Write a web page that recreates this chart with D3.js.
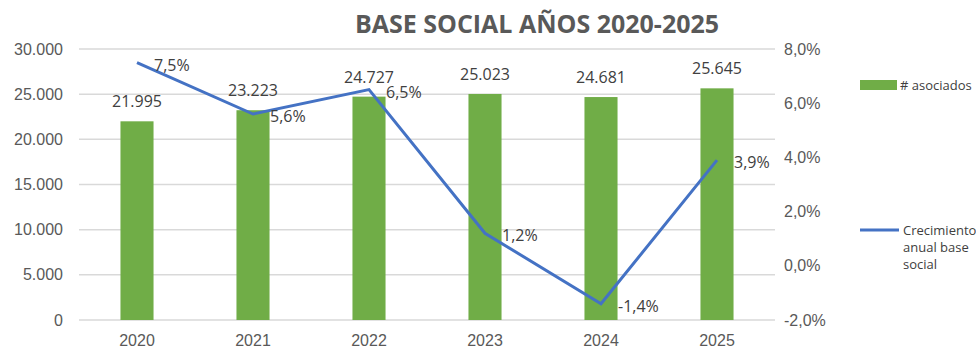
<!DOCTYPE html>
<html>
<head>
<meta charset="utf-8">
<script src="https://cdn.jsdelivr.net/npm/d3@7"></script>
<style>
  body { margin: 0; background: #fff; }
  svg { display: block; font-family: "Open Sans", sans-serif; }
  .grid line { stroke: #d9d9d9; stroke-width: 1.5; }
  .axis text { fill: #595959; font-size: 16px; }
</style>
</head>
<body>
<svg id="chart" width="976" height="349"></svg>
<script>
var years = ['2020', '2021', '2022', '2023', '2024', '2025'];
var members = [21995, 23223, 24727, 25023, 24681, 25645];
var growth = [7.5, 5.6, 6.5, 1.2, -1.4, 3.9];
var leftTicks = [0, 5000, 10000, 15000, 20000, 25000, 30000];
var rightTicks = [-2, 0, 2, 4, 6, 8];

var margin = { top: 49, right: 201, bottom: 29, left: 79 };
var width = 976 - margin.left - margin.right;
var height = 349 - margin.top - margin.bottom;

var svg = d3.select('#chart');
var g = svg.append('g').attr('transform', 'translate(' + margin.left + ',' + margin.top + ')');

var x = d3.scaleBand().domain(years).range([0, width]);
var y = d3.scaleLinear().domain([0, 30000]).range([height, 0]);
var y2 = d3.scaleLinear().domain([-2, 8]).range([height, 0]);

var fmtInt = function (d) { return d3.format(',')(d).replace(/,/g, '.'); };
var fmtPct = function (d) { return d3.format('.1f')(d).replace('.', ',').replace('\u2212', '-') + '%'; };

// gridlines
g.append('g').attr('class', 'grid')
	.selectAll('line')
	.data(leftTicks)
	.enter()
	.append('line')
	.attr('x1', 0).attr('x2', width)
	.attr('y1', function (d) { return y(d); })
	.attr('y2', function (d) { return y(d); });

// left axis
g.append('g').attr('class', 'axis')
	.call(d3.axisLeft(y).tickValues(leftTicks).tickSize(0).tickPadding(16).tickFormat(fmtInt))
	.call(function (a) { a.select('.domain').remove(); });

// right axis
g.append('g').attr('class', 'axis')
	.attr('transform', 'translate(' + width + ',0)')
	.call(d3.axisRight(y2).tickValues(rightTicks).tickSize(0).tickPadding(9).tickFormat(fmtPct))
	.call(function (a) { a.select('.domain').remove(); });

// bottom axis
g.append('g').attr('class', 'axis')
	.attr('transform', 'translate(0,' + height + ')')
	.call(d3.axisBottom(x).tickSize(0).tickPadding(15))
	.call(function (a) { a.select('.domain').remove(); });

var barW = x.bandwidth() * 0.285;

g.selectAll('rect.bar')
	.data(members)
	.enter()
	.append('rect')
	.attr('class', 'bar')
	.attr('x', function (d, i) { return x(years[i]) + x.bandwidth() / 2 - barW / 2; })
	.attr('y', function (d) { return y(d); })
	.attr('width', barW)
	.attr('height', function (d) { return height - y(d); })
	.attr('fill', '#70ad47');

g.selectAll('text.barlbl')
	.data(members)
	.enter()
	.append('text')
	.attr('class', 'barlbl')
	.attr('x', function (d, i) { return x(years[i]) + x.bandwidth() / 2; })
	.attr('y', function (d) { return y(d) - 14; })
	.attr('text-anchor', 'middle')
	.attr('fill', '#404040')
	.style('font-size', '16px')
	.text(fmtInt);

var line = d3.line()
	.x(function (d, i) { return x(years[i]) + x.bandwidth() / 2; })
	.y(function (d) { return y2(d); });

g.append('path')
	.datum(growth)
	.attr('d', line)
	.attr('fill', 'none')
	.attr('stroke', '#4472c4')
	.attr('stroke-width', 3);

g.selectAll('text.linelbl')
	.data(growth)
	.enter()
	.append('text')
	.attr('class', 'linelbl')
	.attr('x', function (d, i) { return x(years[i]) + x.bandwidth() / 2 + 17; })
	.attr('y', function (d) { return y2(d) + 8; })
	.attr('fill', '#404040')
	.style('font-size', '16px')
	.text(fmtPct);

// title
svg.append('text')
	.attr('x', 537)
	.attr('y', 33)
	.attr('text-anchor', 'middle')
	.attr('fill', '#595959')
	.style('font-size', '25px')
	.style('font-weight', 'bold')
	.text('BASE SOCIAL AÑOS 2020-2025');

// legend
var legend = svg.append('g').attr('transform', 'translate(860,0)');
legend.append('rect')
	.attr('x', 0).attr('y', 80).attr('width', 37).attr('height', 10)
	.attr('fill', '#70ad47');
legend.append('text')
	.attr('x', 40).attr('y', 90)
	.attr('fill', '#404040')
	.style('font-size', '13px')
	.text('# asociados');
legend.append('line')
	.attr('x1', 0).attr('x2', 39).attr('y1', 230).attr('y2', 230)
	.attr('stroke', '#4472c4').attr('stroke-width', 3);
legend.selectAll('text.lg2')
	.data(['Crecimiento', 'anual base', 'social'])
	.enter()
	.append('text')
	.attr('class', 'lg2')
	.attr('x', 43)
	.attr('y', function (d, i) { return 235 + i * 17; })
	.attr('fill', '#404040')
	.style('font-size', '13px')
	.text(function (d) { return d; });
</script>
</body>
</html>
